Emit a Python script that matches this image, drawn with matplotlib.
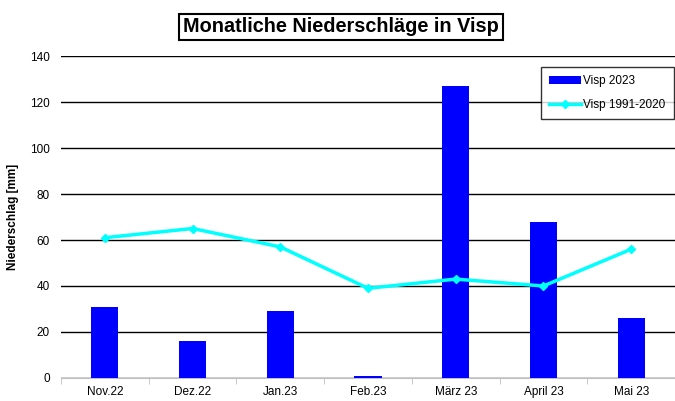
import matplotlib.pyplot as plt
import numpy as np

plt.rcParams["font.family"] = ["Liberation Sans", "DejaVu Sans"]

# ── Data ─────────────────────────────────────────────
months = ["Nov.22", "Dez.22", "Jan.23", "Feb.23", "März 23", "April 23", "Mai 23"]
visp_2023 = [31, 16, 29, 1, 127, 68, 26]
visp_norm = [61, 65, 57, 39, 43, 40, 56]
y_ticks = [0, 20, 40, 60, 80, 100, 120, 140]
# ─────────────────────────────────────────────────

fig = plt.figure(figsize=(6.75, 4.01), dpi=100)
ax = fig.add_axes([61 / 675, 1 - 378 / 401, 614 / 675, 322 / 401])

x = np.arange(len(months))
bars = ax.bar(x, visp_2023, width=0.31, color="#0000ff", label="Visp 2023", zorder=3)
line, = ax.plot(x, visp_norm, color="#00ffff", lw=2.5, marker="D", ms=4.5,
                label="Visp 1991-2020", zorder=4)

ax.set_xlim(-0.5, len(months) - 0.5)
ax.set_ylim(0, 140)
ax.set_yticks(y_ticks)
ax.set_xticks(x)
ax.set_xticklabels(months, fontsize=8.5)
ax.tick_params(axis="x", length=0, pad=6)
ax.tick_params(axis="y", length=0, labelsize=8.5, pad=8)

# category separators on the x axis
ax.set_xticks(np.arange(-0.5, len(months)), minor=True)
ax.tick_params(axis="x", which="minor", length=4, color="#c0c0c0", direction="out")

ax.grid(axis="y", color="black", lw=1, zorder=0)
for side in ["left", "right", "top"]:
    ax.spines[side].set_visible(False)
ax.spines["bottom"].set_color("#c0c0c0")

ax.set_ylabel("Niederschlag [mm]", fontsize=8.5, fontweight="bold", labelpad=8)

leg = ax.legend([bars, line], ["Visp 2023", "Visp 1991-2020"],
                loc="upper right", bbox_to_anchor=(0.998, 0.966), borderaxespad=0,
                fontsize=8.5, frameon=True, fancybox=False, edgecolor="black",
                handlelength=2.7, handletextpad=0.2, borderpad=0.7,
                labelspacing=1.0)
leg.get_frame().set_linewidth(1)

fig.text(341 / 675, 1 - 27 / 401, "Monatliche Niederschläge in Visp",
         ha="center", va="center", fontsize=14.3, fontweight="bold",
         bbox=dict(boxstyle="square,pad=0.2", facecolor="white",
                   edgecolor="black", linewidth=1.5))

fig.savefig("out.png", dpi=100)
